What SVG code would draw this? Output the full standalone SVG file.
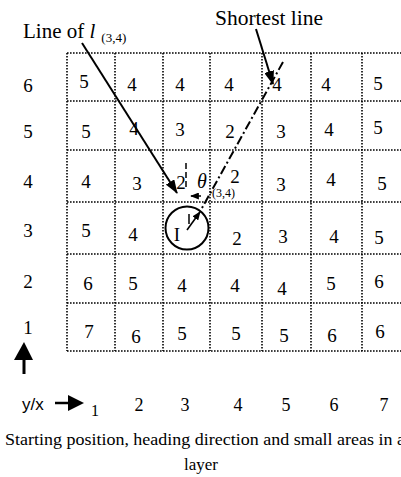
<svg xmlns="http://www.w3.org/2000/svg" width="401" height="477" viewBox="0 0 401 477">
<defs>
<style>
.t{font-family:"Liberation Serif","Times New Roman",serif;fill:#000}
.n{font-size:19px;text-anchor:middle}
.g{stroke:#000;stroke-width:1.6;stroke-dasharray:1.6 1.4;fill:none}
.ln{stroke:#000;stroke-width:2;fill:none}
</style>
<marker id="ah" viewBox="0 0 14 10" refX="13" refY="5" markerWidth="14" markerHeight="10" markerUnits="userSpaceOnUse" orient="auto">
<path d="M0,0 L14,5 L0,10 z" fill="#000"/>
</marker>
<marker id="ahs" viewBox="0 0 10 8" refX="9" refY="4" markerWidth="9" markerHeight="7" markerUnits="userSpaceOnUse" orient="auto">
<path d="M0,0 L10,4 L0,8 z" fill="#000"/>
</marker>
</defs>
<rect width="401" height="477" fill="#fff"/>
<g id="grid">
<path class="g" d="M67,53H401M67,101H401M67,150H401M67,202H401M67,254H401M67,303H401M67,351H401"/>
<path class="g" d="M67,53V351M115,53V351M163,53V351M210,53V351M262,53V351M311,53V351M362,53V351"/>
</g>
<g id="row-labels" class="t" font-size="19" text-anchor="middle">
<text x="28" y="92">6</text>
<text x="28" y="138">5</text>
<text x="28" y="188">4</text>
<text x="28" y="237">3</text>
<text x="28" y="288">2</text>
<text x="28" y="334">1</text>
</g>
<g id="cells" class="t n">
<text x="84" y="88">5</text><text x="132" y="91">4</text><text x="180" y="91">4</text><text x="229" y="91">4</text><text x="277" y="91">4</text><text x="326" y="91">4</text><text x="378" y="90">5</text>
<text x="86" y="138">5</text><text x="134" y="135">4</text><text x="180" y="136">3</text><text x="230" y="138">2</text><text x="281" y="138">3</text><text x="329" y="136">4</text><text x="378" y="134">5</text>
<text x="86" y="188">4</text><text x="137" y="190">3</text><text x="181" y="189">2</text><text x="235" y="183">2</text><text x="281" y="191">3</text><text x="331" y="186">4</text><text x="382" y="190">5</text>
<text x="86" y="237">5</text><text x="133" y="241">4</text><text x="237" y="245">2</text><text x="283" y="243">3</text><text x="334" y="243">4</text><text x="379" y="244">5</text>
<text x="88" y="290">6</text><text x="133" y="290">5</text><text x="182" y="292">4</text><text x="235" y="292">4</text><text x="282" y="295">4</text><text x="331" y="290">5</text><text x="379" y="288">6</text>
<text x="89" y="338">7</text><text x="136" y="343">6</text><text x="182" y="340">5</text><text x="236" y="340">5</text><text x="284" y="342">5</text><text x="332" y="342">6</text><text x="380" y="338">6</text>
</g>
<g id="start">
<circle cx="187" cy="228" r="21.5" fill="none" stroke="#000" stroke-width="2"/>
<text class="t" x="177" y="241" font-size="19" text-anchor="middle">I</text>
</g>
<g id="connectors">
<line class="ln" x1="82" y1="43" x2="177" y2="193" marker-end="url(#ah)"/>
<line class="ln" x1="256" y1="29" x2="273" y2="84" marker-end="url(#ah)"/>
<line x1="283" y1="62" x2="202" y2="208" stroke="#000" stroke-width="2" stroke-dasharray="9 3 2 3"/>
<line x1="187" y1="230" x2="200" y2="212" stroke="#000" stroke-width="1.6" marker-end="url(#ahs)"/>
<line x1="189" y1="214" x2="189" y2="224" stroke="#000" stroke-width="1.5"/>
<line x1="186" y1="163" x2="186" y2="190" stroke="#000" stroke-width="1.5" stroke-dasharray="6 3"/>
<path d="M201,196 L191,196" stroke="#000" stroke-width="1.5" fill="none" marker-end="url(#ahs)"/>
<path d="M24,374 V358" stroke="#000" stroke-width="3" fill="none"/>
<path d="M14,360 L24,342 L33,360 z" fill="#000"/>
<path d="M55,403 H70" stroke="#000" stroke-width="2.5" fill="none"/>
<path d="M68,395 L84,403 L68,411 z" fill="#000"/>
</g>
<g id="labels" class="t">
<text x="23" y="38" font-size="21">Line of <tspan font-style="italic">l</tspan><tspan font-size="13" dy="4" dx="6">(3,4)</tspan></text>
<text x="215" y="25" font-size="21.5">Shortest line</text>
<text x="197" y="188" font-size="20" font-style="italic">θ</text>
<text x="212" y="197" font-size="12">(3,4)</text>
</g>
<g id="axis" class="t" font-size="18">
<text x="22" y="410" font-family="Liberation Sans,Arial,sans-serif" font-size="17">y/x</text>
<text x="91" y="416" font-size="16">1</text>
<text x="139" y="411" text-anchor="middle">2</text>
<text x="185" y="411" text-anchor="middle">3</text>
<text x="238" y="411" text-anchor="middle">4</text>
<text x="286" y="411" text-anchor="middle">5</text>
<text x="334" y="411" text-anchor="middle">6</text>
<text x="384" y="411" text-anchor="middle">7</text>
</g>
<g id="caption" class="t" font-size="17">
<text x="5" y="445" textLength="400" lengthAdjust="spacingAndGlyphs">Starting position, heading direction and small areas in a</text>
<text x="201" y="470" text-anchor="middle">layer</text>
</g>
</svg>
